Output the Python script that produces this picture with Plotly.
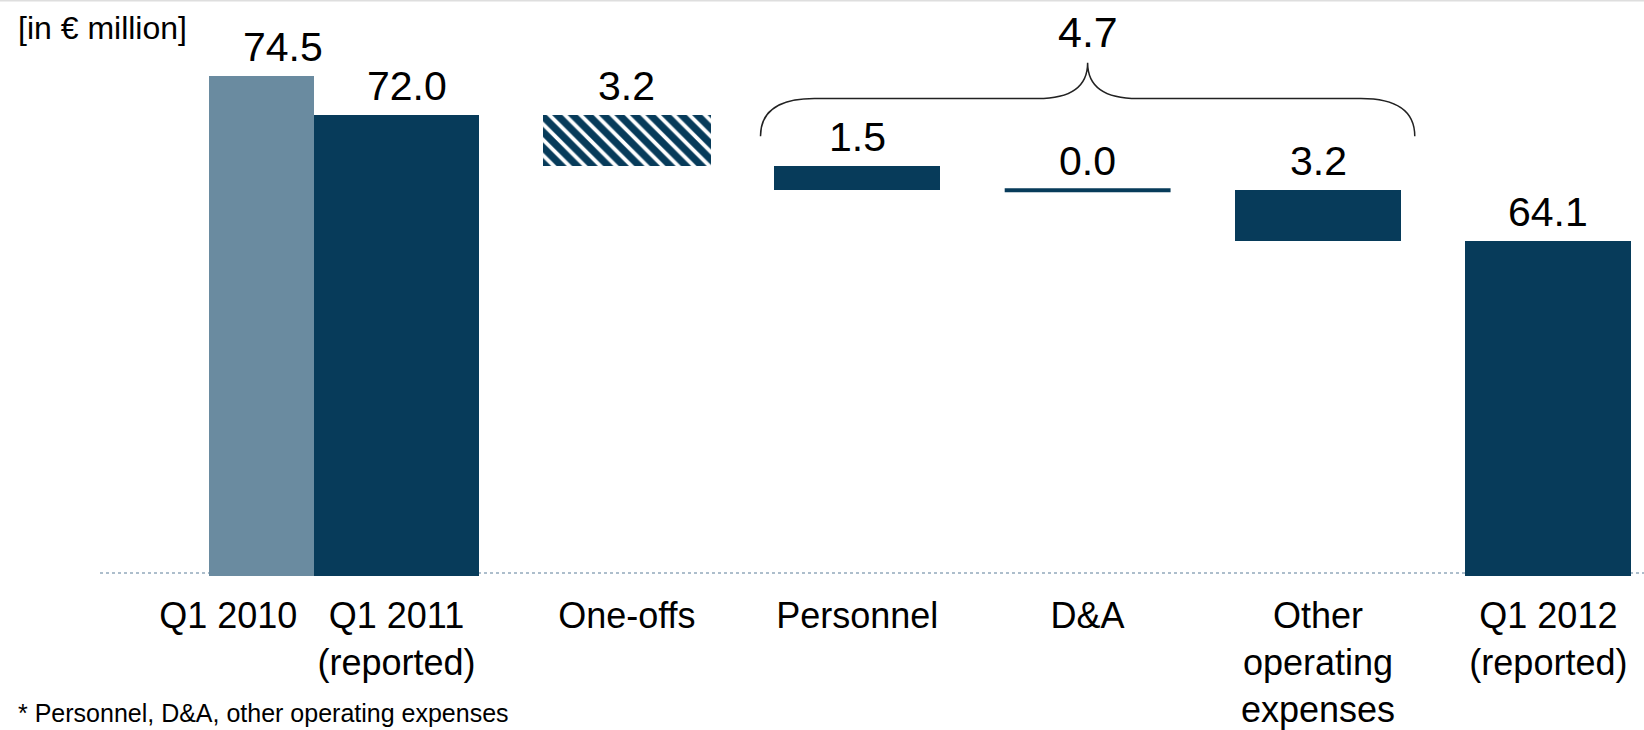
import plotly.graph_objects as go

# ---------------- data ----------------
categories = ["Q1 2010", "Q1 2011<br>(reported)", "One-offs", "Personnel", "D&A",
              "Other<br>operating<br>expenses", "Q1 2012<br>(reported)"]
prior_value = 74.5          # Q1 2010
start_value = 72.0          # Q1 2011 (reported)
one_offs = 3.2
cost_step_names = ["Personnel", "D&A", "Other operating expenses"]
cost_steps = [1.5, 0.0, 3.2]
end_value = 64.1            # Q1 2012 (reported)
unit_label = "[in € million]"
footnote = "* Personnel, D&A, other operating expenses"

# ---------------- layout constants ----------------
W, H = 1644, 730
ML, MR, MT, MB = 100, 0, 0, 151
PLOT_H = H - MT - MB
DARK = "#073B5A"
LIGHT = "#6A8BA0"
FONT = "Liberation Sans, Arial, sans-serif"

BAR_W = 0.72
PRIOR_W = 0.456
X_START, X_ONEOFF = 1, 2
X_PRIOR = X_START - BAR_W / 2 - PRIOR_W / 2
X_STEPS = [3, 4, 5]
X_END = 6
X_PRIOR_LABEL = 0.27
X_RANGE = [-0.287, 6.415]
Y_RANGE = [43.06, 79.25]

def py(px):
    """pixel from top -> paper y"""
    return 1 - (px - MT) / PLOT_H

# waterfall bases derived from data
oneoff_base = start_value - one_offs
step_bases = []
level = oneoff_base
for v in cost_steps:
    level = level - v
    step_bases.append(level)

fig = go.Figure()

fig.add_trace(go.Bar(x=[X_PRIOR], y=[prior_value], width=PRIOR_W,
                     marker=dict(color=LIGHT, line=dict(width=0)), showlegend=False))
fig.add_trace(go.Bar(x=[X_START], y=[start_value], width=BAR_W,
                     marker=dict(color=DARK, line=dict(width=0)), showlegend=False))
fig.add_trace(go.Bar(x=[X_ONEOFF], y=[one_offs], base=[oneoff_base], width=0.73,
                     marker=dict(color="white", line=dict(width=0),
                                 pattern=dict(shape="\\", fgcolor=DARK, bgcolor="white",
                                              fgopacity=1, size=11, solidity=0.65)),
                     showlegend=False))
fig.add_trace(go.Bar(x=X_STEPS, y=cost_steps, base=step_bases, width=BAR_W,
                     marker=dict(color=DARK, line=dict(width=0)), showlegend=False))
# zero-value steps drawn as a thin line at their level
for xs, v, b in zip(X_STEPS, cost_steps, step_bases):
    if v == 0:
        fig.add_trace(go.Scatter(x=[xs - BAR_W / 2, xs + BAR_W / 2], y=[b, b], mode="lines",
                                 line=dict(color=DARK, width=4), showlegend=False,
                                 hoverinfo="skip"))
fig.add_trace(go.Bar(x=[X_END], y=[end_value], width=BAR_W,
                     marker=dict(color=DARK, line=dict(width=0)), showlegend=False))

annotations = []
LABEL_SIZE = 41
def value_label(x, top, v, xshift=0, yshift=4):
    annotations.append(dict(x=x, y=top, xref="x", yref="y", text=f"{v:.1f}",
                            showarrow=False, yanchor="bottom", xanchor="center",
                            xshift=xshift, yshift=yshift,
                            font=dict(size=LABEL_SIZE, color="black", family=FONT)))

value_label(X_PRIOR, prior_value, prior_value, xshift=22)
value_label(X_START, start_value, start_value, xshift=10)
value_label(X_ONEOFF, oneoff_base + one_offs, one_offs)
for xs, v, b in zip(X_STEPS, cost_steps, step_bases):
    value_label(xs, b + v, v)
value_label(X_END, end_value, end_value)

# brace over the cost steps with the total
group_total = sum(cost_steps)
xc = sum(X_STEPS) / len(X_STEPS)
x0 = X_STEPS[0] - 0.42
x1 = X_STEPS[-1] + 0.42
de, dm = 0.234, 0.217
y_end, y_h, y_peak = py(137), py(99), py(63)
brace = (f"M {x0},{y_end} Q {x0},{y_h} {x0+de},{y_h} L {xc-dm},{y_h} "
         f"Q {xc},{y_h} {xc},{y_peak} Q {xc},{y_h} {xc+dm},{y_h} "
         f"L {x1-de},{y_h} Q {x1},{y_h} {x1},{y_end}")
annotations.append(dict(x=xc, y=py(32), xref="x", yref="paper", text=f"{group_total:.1f}",
                        showarrow=False, yanchor="middle", xanchor="center",
                        font=dict(size=43, color="black", family=FONT)))

annotations.append(dict(x=(16 - ML) / (W - ML - MR), y=py(28), xref="paper", yref="paper",
                        text=unit_label, showarrow=False, xanchor="left", yanchor="middle",
                        font=dict(size=32, color="black", family=FONT)))
annotations.append(dict(x=(16 - ML) / (W - ML - MR), y=py(717), xref="paper", yref="paper",
                        text=footnote, showarrow=False, xanchor="left", yanchor="middle",
                        font=dict(size=25, color="black", family=FONT)))

shapes = [
    dict(type="path", path=brace, xref="x", yref="paper",
         line=dict(color="#222222", width=1.5)),
    dict(type="line", xref="paper", yref="paper", x0=0, x1=1, y0=py(576), y1=py(576),
         line=dict(color="#93A9BC", width=1.5, dash="dot"), layer="below"),
    dict(type="line", xref="paper", yref="paper", x0=-ML / (W - ML), x1=1, y0=py(0.5), y1=py(0.5),
         line=dict(color="#DEDEDE", width=2)),
]

fig.update_layout(
    width=W, height=H, margin=dict(l=ML, r=MR, t=MT, b=MB),
    paper_bgcolor="white", plot_bgcolor="white",
    barmode="overlay", bargap=0,
    showlegend=False,
    annotations=annotations, shapes=shapes,
    xaxis=dict(range=X_RANGE, tickmode="array",
               tickvals=[X_PRIOR_LABEL, X_START, X_ONEOFF] + X_STEPS + [X_END],
               ticktext=categories, showgrid=False, zeroline=False, showline=False,
               ticks="", ticklabelstandoff=15,
               tickfont=dict(size=36, color="black", family=FONT),
               fixedrange=True),
    yaxis=dict(range=Y_RANGE, visible=False, showgrid=False, zeroline=False, fixedrange=True),
    font=dict(family=FONT, color="black"),
)

fig.write_html("out.html", config={"displayModeBar": False})
